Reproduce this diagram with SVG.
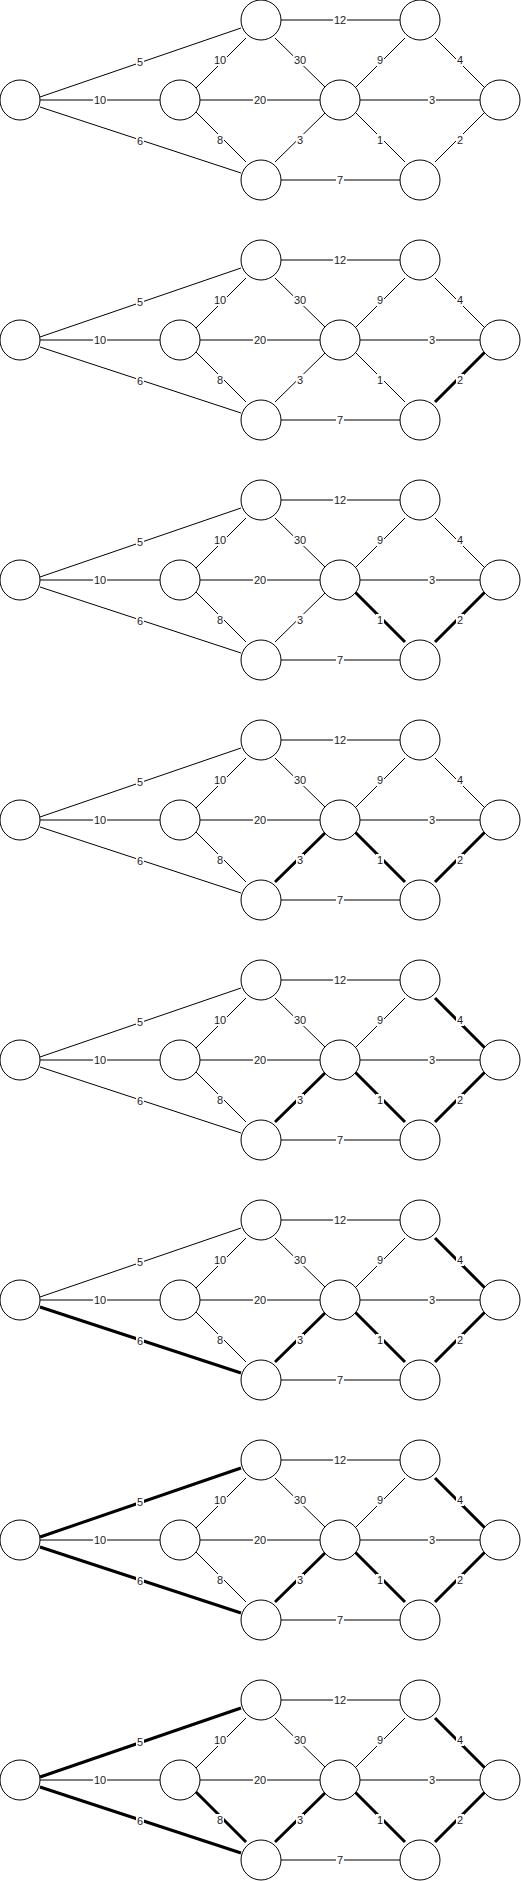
<svg xmlns="http://www.w3.org/2000/svg" width="521" height="1881" viewBox="0 0 521 1881">
<style>
.e{stroke:#000;stroke-width:1;fill:none}
.k{stroke-width:3}
.n{fill:#fff;stroke:#000;stroke-width:1}
.lb{fill:#fff}
.t{font-family:"Liberation Sans",Arial,sans-serif;font-size:11px;fill:#222;text-anchor:middle;dominant-baseline:central}
</style>
<rect width="521" height="1881" fill="#fff"/>

<g id="panel1">
<g id="p1-edges">
<line class="e" x1="40" y1="97" x2="241" y2="28"/>
<line class="e" x1="40" y1="100" x2="160" y2="100"/>
<line class="e" x1="40" y1="107" x2="241" y2="173"/>
<line class="e" x1="196" y1="88" x2="246" y2="38"/>
<line class="e" x1="200" y1="100" x2="320" y2="100"/>
<line class="e" x1="196" y1="112" x2="246" y2="162"/>
<line class="e" x1="281" y1="20" x2="400" y2="20"/>
<line class="e" x1="275" y1="38" x2="326" y2="88"/>
<line class="e" x1="275" y1="162" x2="326" y2="112"/>
<line class="e" x1="281" y1="180" x2="400" y2="180"/>
<line class="e" x1="355" y1="88" x2="405" y2="38"/>
<line class="e" x1="355" y1="112" x2="405" y2="162"/>
<line class="e" x1="360" y1="100" x2="480" y2="100"/>
<line class="e" x1="435" y1="38" x2="485" y2="88"/>
<line class="e" x1="435" y1="162" x2="485" y2="112"/>
<rect class="lb" x="136" y="56" width="8" height="12"/><text class="t" x="140" y="62">5</text>
<rect class="lb" x="93" y="94" width="14" height="12"/><text class="t" x="100" y="100">10</text>
<rect class="lb" x="136" y="135" width="8" height="12"/><text class="t" x="140" y="141">6</text>
<rect class="lb" x="213" y="54" width="14" height="12"/><text class="t" x="220" y="60">10</text>
<rect class="lb" x="253" y="94" width="14" height="12"/><text class="t" x="260" y="100">20</text>
<rect class="lb" x="216" y="134" width="8" height="12"/><text class="t" x="220" y="140">8</text>
<rect class="lb" x="333" y="14" width="14" height="12"/><text class="t" x="340" y="20">12</text>
<rect class="lb" x="293" y="54" width="14" height="12"/><text class="t" x="300" y="60">30</text>
<rect class="lb" x="296" y="134" width="8" height="12"/><text class="t" x="300" y="140">3</text>
<rect class="lb" x="336" y="174" width="8" height="12"/><text class="t" x="340" y="180">7</text>
<rect class="lb" x="376" y="54" width="8" height="12"/><text class="t" x="380" y="60">9</text>
<rect class="lb" x="376" y="134" width="8" height="12"/><text class="t" x="380" y="140">1</text>
<rect class="lb" x="428" y="94" width="8" height="12"/><text class="t" x="432" y="100">3</text>
<rect class="lb" x="456" y="54" width="8" height="12"/><text class="t" x="460" y="60">4</text>
<rect class="lb" x="456" y="134" width="8" height="12"/><text class="t" x="460" y="140">2</text>
</g>
<g id="p1-S"><circle class="n" cx="20" cy="100" r="20"/></g>
<g id="p1-B"><circle class="n" cx="180" cy="100" r="20"/></g>
<g id="p1-A"><circle class="n" cx="261" cy="20" r="20"/></g>
<g id="p1-C"><circle class="n" cx="261" cy="180" r="20"/></g>
<g id="p1-D"><circle class="n" cx="340" cy="100" r="20"/></g>
<g id="p1-E"><circle class="n" cx="420" cy="20" r="20"/></g>
<g id="p1-F"><circle class="n" cx="420" cy="180" r="20"/></g>
<g id="p1-T"><circle class="n" cx="500" cy="100" r="20"/></g>
</g>

<g id="panel2" transform="translate(0,240)">
<g id="p2-edges">
<line class="e" x1="40" y1="97" x2="241" y2="28"/>
<line class="e" x1="40" y1="100" x2="160" y2="100"/>
<line class="e" x1="40" y1="107" x2="241" y2="173"/>
<line class="e" x1="196" y1="88" x2="246" y2="38"/>
<line class="e" x1="200" y1="100" x2="320" y2="100"/>
<line class="e" x1="196" y1="112" x2="246" y2="162"/>
<line class="e" x1="281" y1="20" x2="400" y2="20"/>
<line class="e" x1="275" y1="38" x2="326" y2="88"/>
<line class="e" x1="275" y1="162" x2="326" y2="112"/>
<line class="e" x1="281" y1="180" x2="400" y2="180"/>
<line class="e" x1="355" y1="88" x2="405" y2="38"/>
<line class="e" x1="355" y1="112" x2="405" y2="162"/>
<line class="e" x1="360" y1="100" x2="480" y2="100"/>
<line class="e" x1="435" y1="38" x2="485" y2="88"/>
<line class="e k" x1="435" y1="162" x2="485" y2="112"/>
<rect class="lb" x="136" y="56" width="8" height="12"/><text class="t" x="140" y="62">5</text>
<rect class="lb" x="93" y="94" width="14" height="12"/><text class="t" x="100" y="100">10</text>
<rect class="lb" x="136" y="135" width="8" height="12"/><text class="t" x="140" y="141">6</text>
<rect class="lb" x="213" y="54" width="14" height="12"/><text class="t" x="220" y="60">10</text>
<rect class="lb" x="253" y="94" width="14" height="12"/><text class="t" x="260" y="100">20</text>
<rect class="lb" x="216" y="134" width="8" height="12"/><text class="t" x="220" y="140">8</text>
<rect class="lb" x="333" y="14" width="14" height="12"/><text class="t" x="340" y="20">12</text>
<rect class="lb" x="293" y="54" width="14" height="12"/><text class="t" x="300" y="60">30</text>
<rect class="lb" x="296" y="134" width="8" height="12"/><text class="t" x="300" y="140">3</text>
<rect class="lb" x="336" y="174" width="8" height="12"/><text class="t" x="340" y="180">7</text>
<rect class="lb" x="376" y="54" width="8" height="12"/><text class="t" x="380" y="60">9</text>
<rect class="lb" x="376" y="134" width="8" height="12"/><text class="t" x="380" y="140">1</text>
<rect class="lb" x="428" y="94" width="8" height="12"/><text class="t" x="432" y="100">3</text>
<rect class="lb" x="456" y="54" width="8" height="12"/><text class="t" x="460" y="60">4</text>
<rect class="lb" x="456" y="134" width="8" height="12"/><text class="t" x="460" y="140">2</text>
</g>
<g id="p2-S"><circle class="n" cx="20" cy="100" r="20"/></g>
<g id="p2-B"><circle class="n" cx="180" cy="100" r="20"/></g>
<g id="p2-A"><circle class="n" cx="261" cy="20" r="20"/></g>
<g id="p2-C"><circle class="n" cx="261" cy="180" r="20"/></g>
<g id="p2-D"><circle class="n" cx="340" cy="100" r="20"/></g>
<g id="p2-E"><circle class="n" cx="420" cy="20" r="20"/></g>
<g id="p2-F"><circle class="n" cx="420" cy="180" r="20"/></g>
<g id="p2-T"><circle class="n" cx="500" cy="100" r="20"/></g>
</g>

<g id="panel3" transform="translate(0,480)">
<g id="p3-edges">
<line class="e" x1="40" y1="97" x2="241" y2="28"/>
<line class="e" x1="40" y1="100" x2="160" y2="100"/>
<line class="e" x1="40" y1="107" x2="241" y2="173"/>
<line class="e" x1="196" y1="88" x2="246" y2="38"/>
<line class="e" x1="200" y1="100" x2="320" y2="100"/>
<line class="e" x1="196" y1="112" x2="246" y2="162"/>
<line class="e" x1="281" y1="20" x2="400" y2="20"/>
<line class="e" x1="275" y1="38" x2="326" y2="88"/>
<line class="e" x1="275" y1="162" x2="326" y2="112"/>
<line class="e" x1="281" y1="180" x2="400" y2="180"/>
<line class="e" x1="355" y1="88" x2="405" y2="38"/>
<line class="e k" x1="355" y1="112" x2="405" y2="162"/>
<line class="e" x1="360" y1="100" x2="480" y2="100"/>
<line class="e" x1="435" y1="38" x2="485" y2="88"/>
<line class="e k" x1="435" y1="162" x2="485" y2="112"/>
<rect class="lb" x="136" y="56" width="8" height="12"/><text class="t" x="140" y="62">5</text>
<rect class="lb" x="93" y="94" width="14" height="12"/><text class="t" x="100" y="100">10</text>
<rect class="lb" x="136" y="135" width="8" height="12"/><text class="t" x="140" y="141">6</text>
<rect class="lb" x="213" y="54" width="14" height="12"/><text class="t" x="220" y="60">10</text>
<rect class="lb" x="253" y="94" width="14" height="12"/><text class="t" x="260" y="100">20</text>
<rect class="lb" x="216" y="134" width="8" height="12"/><text class="t" x="220" y="140">8</text>
<rect class="lb" x="333" y="14" width="14" height="12"/><text class="t" x="340" y="20">12</text>
<rect class="lb" x="293" y="54" width="14" height="12"/><text class="t" x="300" y="60">30</text>
<rect class="lb" x="296" y="134" width="8" height="12"/><text class="t" x="300" y="140">3</text>
<rect class="lb" x="336" y="174" width="8" height="12"/><text class="t" x="340" y="180">7</text>
<rect class="lb" x="376" y="54" width="8" height="12"/><text class="t" x="380" y="60">9</text>
<rect class="lb" x="376" y="134" width="8" height="12"/><text class="t" x="380" y="140">1</text>
<rect class="lb" x="428" y="94" width="8" height="12"/><text class="t" x="432" y="100">3</text>
<rect class="lb" x="456" y="54" width="8" height="12"/><text class="t" x="460" y="60">4</text>
<rect class="lb" x="456" y="134" width="8" height="12"/><text class="t" x="460" y="140">2</text>
</g>
<g id="p3-S"><circle class="n" cx="20" cy="100" r="20"/></g>
<g id="p3-B"><circle class="n" cx="180" cy="100" r="20"/></g>
<g id="p3-A"><circle class="n" cx="261" cy="20" r="20"/></g>
<g id="p3-C"><circle class="n" cx="261" cy="180" r="20"/></g>
<g id="p3-D"><circle class="n" cx="340" cy="100" r="20"/></g>
<g id="p3-E"><circle class="n" cx="420" cy="20" r="20"/></g>
<g id="p3-F"><circle class="n" cx="420" cy="180" r="20"/></g>
<g id="p3-T"><circle class="n" cx="500" cy="100" r="20"/></g>
</g>

<g id="panel4" transform="translate(0,720)">
<g id="p4-edges">
<line class="e" x1="40" y1="97" x2="241" y2="28"/>
<line class="e" x1="40" y1="100" x2="160" y2="100"/>
<line class="e" x1="40" y1="107" x2="241" y2="173"/>
<line class="e" x1="196" y1="88" x2="246" y2="38"/>
<line class="e" x1="200" y1="100" x2="320" y2="100"/>
<line class="e" x1="196" y1="112" x2="246" y2="162"/>
<line class="e" x1="281" y1="20" x2="400" y2="20"/>
<line class="e" x1="275" y1="38" x2="326" y2="88"/>
<line class="e k" x1="275" y1="162" x2="326" y2="112"/>
<line class="e" x1="281" y1="180" x2="400" y2="180"/>
<line class="e" x1="355" y1="88" x2="405" y2="38"/>
<line class="e k" x1="355" y1="112" x2="405" y2="162"/>
<line class="e" x1="360" y1="100" x2="480" y2="100"/>
<line class="e" x1="435" y1="38" x2="485" y2="88"/>
<line class="e k" x1="435" y1="162" x2="485" y2="112"/>
<rect class="lb" x="136" y="56" width="8" height="12"/><text class="t" x="140" y="62">5</text>
<rect class="lb" x="93" y="94" width="14" height="12"/><text class="t" x="100" y="100">10</text>
<rect class="lb" x="136" y="135" width="8" height="12"/><text class="t" x="140" y="141">6</text>
<rect class="lb" x="213" y="54" width="14" height="12"/><text class="t" x="220" y="60">10</text>
<rect class="lb" x="253" y="94" width="14" height="12"/><text class="t" x="260" y="100">20</text>
<rect class="lb" x="216" y="134" width="8" height="12"/><text class="t" x="220" y="140">8</text>
<rect class="lb" x="333" y="14" width="14" height="12"/><text class="t" x="340" y="20">12</text>
<rect class="lb" x="293" y="54" width="14" height="12"/><text class="t" x="300" y="60">30</text>
<rect class="lb" x="296" y="134" width="8" height="12"/><text class="t" x="300" y="140">3</text>
<rect class="lb" x="336" y="174" width="8" height="12"/><text class="t" x="340" y="180">7</text>
<rect class="lb" x="376" y="54" width="8" height="12"/><text class="t" x="380" y="60">9</text>
<rect class="lb" x="376" y="134" width="8" height="12"/><text class="t" x="380" y="140">1</text>
<rect class="lb" x="428" y="94" width="8" height="12"/><text class="t" x="432" y="100">3</text>
<rect class="lb" x="456" y="54" width="8" height="12"/><text class="t" x="460" y="60">4</text>
<rect class="lb" x="456" y="134" width="8" height="12"/><text class="t" x="460" y="140">2</text>
</g>
<g id="p4-S"><circle class="n" cx="20" cy="100" r="20"/></g>
<g id="p4-B"><circle class="n" cx="180" cy="100" r="20"/></g>
<g id="p4-A"><circle class="n" cx="261" cy="20" r="20"/></g>
<g id="p4-C"><circle class="n" cx="261" cy="180" r="20"/></g>
<g id="p4-D"><circle class="n" cx="340" cy="100" r="20"/></g>
<g id="p4-E"><circle class="n" cx="420" cy="20" r="20"/></g>
<g id="p4-F"><circle class="n" cx="420" cy="180" r="20"/></g>
<g id="p4-T"><circle class="n" cx="500" cy="100" r="20"/></g>
</g>

<g id="panel5" transform="translate(0,960)">
<g id="p5-edges">
<line class="e" x1="40" y1="97" x2="241" y2="28"/>
<line class="e" x1="40" y1="100" x2="160" y2="100"/>
<line class="e" x1="40" y1="107" x2="241" y2="173"/>
<line class="e" x1="196" y1="88" x2="246" y2="38"/>
<line class="e" x1="200" y1="100" x2="320" y2="100"/>
<line class="e" x1="196" y1="112" x2="246" y2="162"/>
<line class="e" x1="281" y1="20" x2="400" y2="20"/>
<line class="e" x1="275" y1="38" x2="326" y2="88"/>
<line class="e k" x1="275" y1="162" x2="326" y2="112"/>
<line class="e" x1="281" y1="180" x2="400" y2="180"/>
<line class="e" x1="355" y1="88" x2="405" y2="38"/>
<line class="e k" x1="355" y1="112" x2="405" y2="162"/>
<line class="e" x1="360" y1="100" x2="480" y2="100"/>
<line class="e k" x1="435" y1="38" x2="485" y2="88"/>
<line class="e k" x1="435" y1="162" x2="485" y2="112"/>
<rect class="lb" x="136" y="56" width="8" height="12"/><text class="t" x="140" y="62">5</text>
<rect class="lb" x="93" y="94" width="14" height="12"/><text class="t" x="100" y="100">10</text>
<rect class="lb" x="136" y="135" width="8" height="12"/><text class="t" x="140" y="141">6</text>
<rect class="lb" x="213" y="54" width="14" height="12"/><text class="t" x="220" y="60">10</text>
<rect class="lb" x="253" y="94" width="14" height="12"/><text class="t" x="260" y="100">20</text>
<rect class="lb" x="216" y="134" width="8" height="12"/><text class="t" x="220" y="140">8</text>
<rect class="lb" x="333" y="14" width="14" height="12"/><text class="t" x="340" y="20">12</text>
<rect class="lb" x="293" y="54" width="14" height="12"/><text class="t" x="300" y="60">30</text>
<rect class="lb" x="296" y="134" width="8" height="12"/><text class="t" x="300" y="140">3</text>
<rect class="lb" x="336" y="174" width="8" height="12"/><text class="t" x="340" y="180">7</text>
<rect class="lb" x="376" y="54" width="8" height="12"/><text class="t" x="380" y="60">9</text>
<rect class="lb" x="376" y="134" width="8" height="12"/><text class="t" x="380" y="140">1</text>
<rect class="lb" x="428" y="94" width="8" height="12"/><text class="t" x="432" y="100">3</text>
<rect class="lb" x="456" y="54" width="8" height="12"/><text class="t" x="460" y="60">4</text>
<rect class="lb" x="456" y="134" width="8" height="12"/><text class="t" x="460" y="140">2</text>
</g>
<g id="p5-S"><circle class="n" cx="20" cy="100" r="20"/></g>
<g id="p5-B"><circle class="n" cx="180" cy="100" r="20"/></g>
<g id="p5-A"><circle class="n" cx="261" cy="20" r="20"/></g>
<g id="p5-C"><circle class="n" cx="261" cy="180" r="20"/></g>
<g id="p5-D"><circle class="n" cx="340" cy="100" r="20"/></g>
<g id="p5-E"><circle class="n" cx="420" cy="20" r="20"/></g>
<g id="p5-F"><circle class="n" cx="420" cy="180" r="20"/></g>
<g id="p5-T"><circle class="n" cx="500" cy="100" r="20"/></g>
</g>

<g id="panel6" transform="translate(0,1200)">
<g id="p6-edges">
<line class="e" x1="40" y1="97" x2="241" y2="28"/>
<line class="e" x1="40" y1="100" x2="160" y2="100"/>
<line class="e k" x1="40" y1="107" x2="241" y2="173"/>
<line class="e" x1="196" y1="88" x2="246" y2="38"/>
<line class="e" x1="200" y1="100" x2="320" y2="100"/>
<line class="e" x1="196" y1="112" x2="246" y2="162"/>
<line class="e" x1="281" y1="20" x2="400" y2="20"/>
<line class="e" x1="275" y1="38" x2="326" y2="88"/>
<line class="e k" x1="275" y1="162" x2="326" y2="112"/>
<line class="e" x1="281" y1="180" x2="400" y2="180"/>
<line class="e" x1="355" y1="88" x2="405" y2="38"/>
<line class="e k" x1="355" y1="112" x2="405" y2="162"/>
<line class="e" x1="360" y1="100" x2="480" y2="100"/>
<line class="e k" x1="435" y1="38" x2="485" y2="88"/>
<line class="e k" x1="435" y1="162" x2="485" y2="112"/>
<rect class="lb" x="136" y="56" width="8" height="12"/><text class="t" x="140" y="62">5</text>
<rect class="lb" x="93" y="94" width="14" height="12"/><text class="t" x="100" y="100">10</text>
<rect class="lb" x="136" y="135" width="8" height="12"/><text class="t" x="140" y="141">6</text>
<rect class="lb" x="213" y="54" width="14" height="12"/><text class="t" x="220" y="60">10</text>
<rect class="lb" x="253" y="94" width="14" height="12"/><text class="t" x="260" y="100">20</text>
<rect class="lb" x="216" y="134" width="8" height="12"/><text class="t" x="220" y="140">8</text>
<rect class="lb" x="333" y="14" width="14" height="12"/><text class="t" x="340" y="20">12</text>
<rect class="lb" x="293" y="54" width="14" height="12"/><text class="t" x="300" y="60">30</text>
<rect class="lb" x="296" y="134" width="8" height="12"/><text class="t" x="300" y="140">3</text>
<rect class="lb" x="336" y="174" width="8" height="12"/><text class="t" x="340" y="180">7</text>
<rect class="lb" x="376" y="54" width="8" height="12"/><text class="t" x="380" y="60">9</text>
<rect class="lb" x="376" y="134" width="8" height="12"/><text class="t" x="380" y="140">1</text>
<rect class="lb" x="428" y="94" width="8" height="12"/><text class="t" x="432" y="100">3</text>
<rect class="lb" x="456" y="54" width="8" height="12"/><text class="t" x="460" y="60">4</text>
<rect class="lb" x="456" y="134" width="8" height="12"/><text class="t" x="460" y="140">2</text>
</g>
<g id="p6-S"><circle class="n" cx="20" cy="100" r="20"/></g>
<g id="p6-B"><circle class="n" cx="180" cy="100" r="20"/></g>
<g id="p6-A"><circle class="n" cx="261" cy="20" r="20"/></g>
<g id="p6-C"><circle class="n" cx="261" cy="180" r="20"/></g>
<g id="p6-D"><circle class="n" cx="340" cy="100" r="20"/></g>
<g id="p6-E"><circle class="n" cx="420" cy="20" r="20"/></g>
<g id="p6-F"><circle class="n" cx="420" cy="180" r="20"/></g>
<g id="p6-T"><circle class="n" cx="500" cy="100" r="20"/></g>
</g>

<g id="panel7" transform="translate(0,1440)">
<g id="p7-edges">
<line class="e k" x1="40" y1="97" x2="241" y2="28"/>
<line class="e" x1="40" y1="100" x2="160" y2="100"/>
<line class="e k" x1="40" y1="107" x2="241" y2="173"/>
<line class="e" x1="196" y1="88" x2="246" y2="38"/>
<line class="e" x1="200" y1="100" x2="320" y2="100"/>
<line class="e" x1="196" y1="112" x2="246" y2="162"/>
<line class="e" x1="281" y1="20" x2="400" y2="20"/>
<line class="e" x1="275" y1="38" x2="326" y2="88"/>
<line class="e k" x1="275" y1="162" x2="326" y2="112"/>
<line class="e" x1="281" y1="180" x2="400" y2="180"/>
<line class="e" x1="355" y1="88" x2="405" y2="38"/>
<line class="e k" x1="355" y1="112" x2="405" y2="162"/>
<line class="e" x1="360" y1="100" x2="480" y2="100"/>
<line class="e k" x1="435" y1="38" x2="485" y2="88"/>
<line class="e k" x1="435" y1="162" x2="485" y2="112"/>
<rect class="lb" x="136" y="56" width="8" height="12"/><text class="t" x="140" y="62">5</text>
<rect class="lb" x="93" y="94" width="14" height="12"/><text class="t" x="100" y="100">10</text>
<rect class="lb" x="136" y="135" width="8" height="12"/><text class="t" x="140" y="141">6</text>
<rect class="lb" x="213" y="54" width="14" height="12"/><text class="t" x="220" y="60">10</text>
<rect class="lb" x="253" y="94" width="14" height="12"/><text class="t" x="260" y="100">20</text>
<rect class="lb" x="216" y="134" width="8" height="12"/><text class="t" x="220" y="140">8</text>
<rect class="lb" x="333" y="14" width="14" height="12"/><text class="t" x="340" y="20">12</text>
<rect class="lb" x="293" y="54" width="14" height="12"/><text class="t" x="300" y="60">30</text>
<rect class="lb" x="296" y="134" width="8" height="12"/><text class="t" x="300" y="140">3</text>
<rect class="lb" x="336" y="174" width="8" height="12"/><text class="t" x="340" y="180">7</text>
<rect class="lb" x="376" y="54" width="8" height="12"/><text class="t" x="380" y="60">9</text>
<rect class="lb" x="376" y="134" width="8" height="12"/><text class="t" x="380" y="140">1</text>
<rect class="lb" x="428" y="94" width="8" height="12"/><text class="t" x="432" y="100">3</text>
<rect class="lb" x="456" y="54" width="8" height="12"/><text class="t" x="460" y="60">4</text>
<rect class="lb" x="456" y="134" width="8" height="12"/><text class="t" x="460" y="140">2</text>
</g>
<g id="p7-S"><circle class="n" cx="20" cy="100" r="20"/></g>
<g id="p7-B"><circle class="n" cx="180" cy="100" r="20"/></g>
<g id="p7-A"><circle class="n" cx="261" cy="20" r="20"/></g>
<g id="p7-C"><circle class="n" cx="261" cy="180" r="20"/></g>
<g id="p7-D"><circle class="n" cx="340" cy="100" r="20"/></g>
<g id="p7-E"><circle class="n" cx="420" cy="20" r="20"/></g>
<g id="p7-F"><circle class="n" cx="420" cy="180" r="20"/></g>
<g id="p7-T"><circle class="n" cx="500" cy="100" r="20"/></g>
</g>

<g id="panel8" transform="translate(0,1680)">
<g id="p8-edges">
<line class="e k" x1="40" y1="97" x2="241" y2="28"/>
<line class="e" x1="40" y1="100" x2="160" y2="100"/>
<line class="e k" x1="40" y1="107" x2="241" y2="173"/>
<line class="e" x1="196" y1="88" x2="246" y2="38"/>
<line class="e" x1="200" y1="100" x2="320" y2="100"/>
<line class="e k" x1="196" y1="112" x2="246" y2="162"/>
<line class="e" x1="281" y1="20" x2="400" y2="20"/>
<line class="e" x1="275" y1="38" x2="326" y2="88"/>
<line class="e k" x1="275" y1="162" x2="326" y2="112"/>
<line class="e" x1="281" y1="180" x2="400" y2="180"/>
<line class="e" x1="355" y1="88" x2="405" y2="38"/>
<line class="e k" x1="355" y1="112" x2="405" y2="162"/>
<line class="e" x1="360" y1="100" x2="480" y2="100"/>
<line class="e k" x1="435" y1="38" x2="485" y2="88"/>
<line class="e k" x1="435" y1="162" x2="485" y2="112"/>
<rect class="lb" x="136" y="56" width="8" height="12"/><text class="t" x="140" y="62">5</text>
<rect class="lb" x="93" y="94" width="14" height="12"/><text class="t" x="100" y="100">10</text>
<rect class="lb" x="136" y="135" width="8" height="12"/><text class="t" x="140" y="141">6</text>
<rect class="lb" x="213" y="54" width="14" height="12"/><text class="t" x="220" y="60">10</text>
<rect class="lb" x="253" y="94" width="14" height="12"/><text class="t" x="260" y="100">20</text>
<rect class="lb" x="216" y="134" width="8" height="12"/><text class="t" x="220" y="140">8</text>
<rect class="lb" x="333" y="14" width="14" height="12"/><text class="t" x="340" y="20">12</text>
<rect class="lb" x="293" y="54" width="14" height="12"/><text class="t" x="300" y="60">30</text>
<rect class="lb" x="296" y="134" width="8" height="12"/><text class="t" x="300" y="140">3</text>
<rect class="lb" x="336" y="174" width="8" height="12"/><text class="t" x="340" y="180">7</text>
<rect class="lb" x="376" y="54" width="8" height="12"/><text class="t" x="380" y="60">9</text>
<rect class="lb" x="376" y="134" width="8" height="12"/><text class="t" x="380" y="140">1</text>
<rect class="lb" x="428" y="94" width="8" height="12"/><text class="t" x="432" y="100">3</text>
<rect class="lb" x="456" y="54" width="8" height="12"/><text class="t" x="460" y="60">4</text>
<rect class="lb" x="456" y="134" width="8" height="12"/><text class="t" x="460" y="140">2</text>
</g>
<g id="p8-S"><circle class="n" cx="20" cy="100" r="20"/></g>
<g id="p8-B"><circle class="n" cx="180" cy="100" r="20"/></g>
<g id="p8-A"><circle class="n" cx="261" cy="20" r="20"/></g>
<g id="p8-C"><circle class="n" cx="261" cy="180" r="20"/></g>
<g id="p8-D"><circle class="n" cx="340" cy="100" r="20"/></g>
<g id="p8-E"><circle class="n" cx="420" cy="20" r="20"/></g>
<g id="p8-F"><circle class="n" cx="420" cy="180" r="20"/></g>
<g id="p8-T"><circle class="n" cx="500" cy="100" r="20"/></g>
</g>
</svg>
